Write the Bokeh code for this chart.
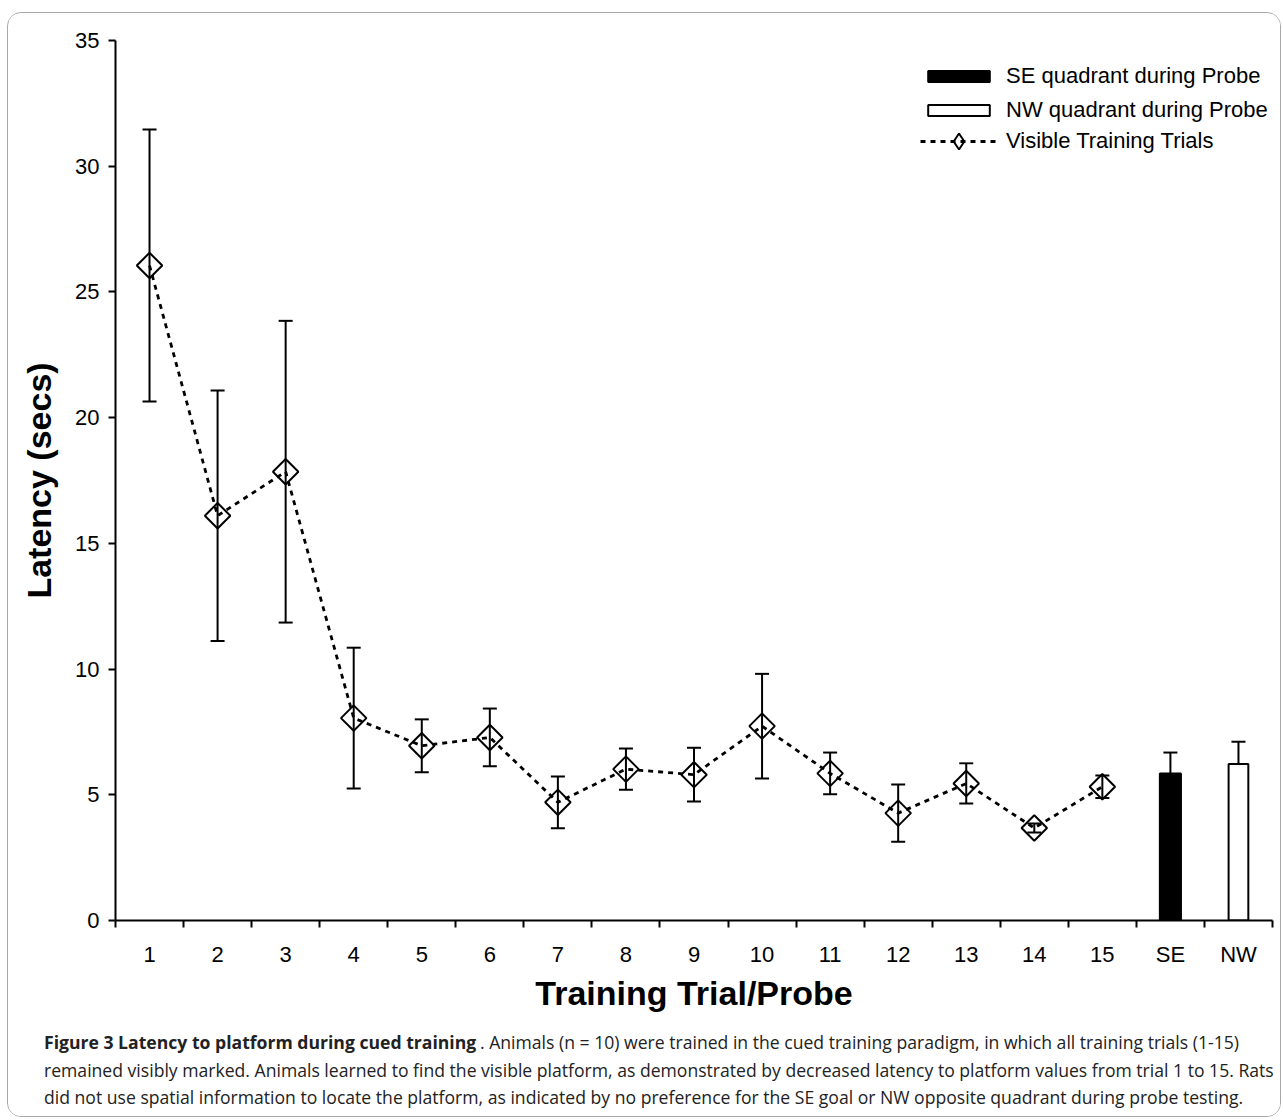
import math
from bokeh.plotting import figure
from bokeh.layouts import column
from bokeh.models import (ColumnDataSource, Whisker, TeeHead, Legend, LegendItem, Range1d,
                          LinearAxis, CategoricalAxis, FixedTicker, Label, FactorRange,
                          CustomLabelingPolicy)
from bokeh.embed import file_html
from bokeh.resources import INLINE

# ---------------- data ----------------
trials = [str(i) for i in range(1, 16)]
trial_means = [26.05, 16.1, 17.85, 8.05, 6.95, 7.28, 4.7, 6.02, 5.8, 7.73, 5.85, 4.27, 5.45, 3.68, 5.32]
trial_sems = [5.41, 4.98, 6.0, 2.8, 1.05, 1.15, 1.03, 0.82, 1.07, 2.08, 0.83, 1.14, 0.8, 0.18, 0.45]
probe_cats = ["SE", "NW"]
probe_means = [5.85, 6.22]
probe_sems = [0.83, 0.89]
categories = trials + probe_cats
y_ticks = [0, 5, 10, 15, 20, 25, 30, 35]
legend_labels = ["SE quadrant during Probe", "NW quadrant during Probe", "Visible Training Trials"]
x_title = "Training Trial/Probe"
y_title = "Latency (secs)"
caption_bold = "Figure 3 Latency to platform during cued training"
caption_line1_rest = ". Animals (n = 10) were trained in the cued training paradigm, in which all training trials (1-15)"
caption_line2 = ("remained visibly marked. Animals learned to find the visible platform, as demonstrated by "
                 "decreased latency to platform values from trial 1 to 15. Rats")
caption_line3 = ("did not use spatial information to locate the platform, as indicated by no preference for "
                 "the SE goal or NW opposite quadrant during probe testing.")

# ---------------- layout constants ----------------
FRAME_W, FRAME_H = 1157, 880
FIG_W = 1272
CAP_H = 96
AXIS_FONT = "Liberation Sans"

p = figure(x_range=FactorRange(*categories, range_padding=0), y_range=Range1d(0, 35),
           frame_width=FRAME_W, frame_height=FRAME_H,
           min_border_left=107, min_border_right=FIG_W - 107 - FRAME_W,
           min_border_top=27, min_border_bottom=100,
           output_backend="svg", toolbar_location=None,
           x_axis_location=None, y_axis_location=None)
p.frame_align = False
p.outline_line_color = None
p.background_fill_color = "white"
p.border_fill_color = "white"
p.grid.visible = False

# ticks at the boundaries between categories (synthetic coordinates 0..N), no labels
tick_axis = LinearAxis(ticker=FixedTicker(ticks=list(range(len(categories) + 1))),
                       major_tick_out=7, major_tick_in=0, minor_tick_line_color=None,
                       axis_line_width=2, major_tick_line_width=2,
                       major_label_text_font_size="0px", major_label_standoff=0,
                       major_label_policy=CustomLabelingPolicy(code="return new Set()"))
label_axis = CategoricalAxis(axis_line_color=None, major_tick_line_color=None,
                             major_tick_out=0, major_tick_in=0, minor_tick_line_color=None,
                             major_label_standoff=14,
                             major_label_text_font=AXIS_FONT, major_label_text_font_size="22px",
                             major_label_text_color="black",
                             axis_label=x_title, axis_label_standoff=4,
                             axis_label_text_font=AXIS_FONT, axis_label_text_font_size="34px",
                             axis_label_text_font_style="bold", axis_label_text_color="black")
p.add_layout(tick_axis, "below")
p.add_layout(label_axis, "below")

yaxis = LinearAxis(ticker=FixedTicker(ticks=y_ticks), major_tick_out=7, major_tick_in=0,
                   minor_tick_line_color=None, axis_line_width=2, major_tick_line_width=2,
                   major_label_text_font=AXIS_FONT, major_label_text_font_size="22px",
                   major_label_text_color="black", major_label_standoff=9,
                   axis_label=y_title, axis_label_standoff=14,
                   axis_label_text_font=AXIS_FONT, axis_label_text_font_size="34px",
                   axis_label_text_font_style="bold", axis_label_text_color="black")
p.add_layout(yaxis, "left")

# ---------------- training trials ----------------
src = ColumnDataSource(dict(
    x=trials, y=trial_means,
    upper=[m + s for m, s in zip(trial_means, trial_sems)],
    lower=[m - s for m, s in zip(trial_means, trial_sems)],
))
w = Whisker(base="x", upper="upper", lower="lower", source=src, line_width=2, line_color="black",
            upper_head=TeeHead(size=14, line_width=2, line_color="black"),
            lower_head=TeeHead(size=14, line_width=2, line_color="black"))
p.add_layout(w)
line_r = p.line("x", "y", source=src, line_dash="5 5", line_width=2.8, line_color="black")
scat_r = p.scatter("x", "y", source=src, marker="square", angle=math.pi / 4, size=18,
                   fill_color=None, line_color="black", line_width=2)
# hidden twin of the markers, used only for the legend swatch (legend markers are drawn unrotated)
legend_marker = p.scatter("x", "y", source=src, marker="diamond", size=18, fill_color=None,
                          line_color="black", line_width=2, visible=False)

# ---------------- probe bars ----------------
probe_src = ColumnDataSource(dict(
    x=probe_cats, top=probe_means,
    upper=[m + s for m, s in zip(probe_means, probe_sems)],
    lower=[m - s for m, s in zip(probe_means, probe_sems)],
))
se_src = ColumnDataSource(dict(x=probe_cats[:1], top=probe_means[:1]))
nw_src = ColumnDataSource(dict(x=probe_cats[1:], top=probe_means[1:]))
pw = Whisker(base="x", upper="upper", lower="lower", source=probe_src, line_width=2, line_color="black",
             upper_head=TeeHead(size=14, line_width=2, line_color="black"),
             lower_head=TeeHead(size=14, line_width=2, line_color="black"))
p.add_layout(pw)
se_bar = p.vbar(x="x", top="top", width=0.31, source=se_src, fill_color="black",
                line_color="black", line_width=2)
nw_bar = p.vbar(x="x", top="top", width=0.29, source=nw_src, fill_color="white",
                line_color="black", line_width=2)

# ---------------- legends ----------------
leg_common = dict(glyph_width=77, label_standoff=9, padding=0, margin=0,
                  border_line_color=None, background_fill_alpha=0,
                  label_text_font=AXIS_FONT, label_text_font_size="22px",
                  label_text_color="black", inactive_fill_alpha=0)
legA = Legend(items=[LegendItem(label=legend_labels[0], renderers=[se_bar]),
                     LegendItem(label=legend_labels[1], renderers=[nw_bar])],
              location=(805, 797), glyph_height=14, spacing=8, **leg_common)
legB = Legend(items=[LegendItem(label=legend_labels[2], renderers=[line_r, legend_marker])],
              location=(805, 759), glyph_height=40, **leg_common)
p.add_layout(legA)
p.add_layout(legB)

# ---------------- caption (own strip below the chart) ----------------
cap_fig = figure(width=FIG_W, height=CAP_H, x_range=Range1d(0, FIG_W), y_range=Range1d(CAP_H, 0),
                 output_backend="svg", toolbar_location=None, min_border=0,
                 min_border_left=0, min_border_right=0, min_border_top=0, min_border_bottom=0,
                 x_axis_location=None, y_axis_location=None)
cap_fig.frame_align = False
cap_fig.title.visible = False
cap_fig.outline_line_color = None
cap_fig.grid.visible = False
cap_fig.background_fill_color = "white"
cap_fig.border_fill_color = "white"

cap = dict(text_font="Open Sans", text_font_size="17.6px", text_color="#222222",
           text_baseline="alphabetic", text_align="left")
cap_fig.add_layout(Label(x=35.5, y=21.5, text=caption_bold, text_font_style="bold", **cap))
cap_fig.add_layout(Label(x=471.5, y=21.5, text=caption_line1_rest, **cap))
cap_fig.add_layout(Label(x=35.5, y=49.5, text=caption_line2, **cap))
cap_fig.add_layout(Label(x=35.5, y=76.5, text=caption_line3, **cap))

layout = column(p, cap_fig, spacing=0)
layout.styles = {"border": "1.5px solid #a8a8a8", "border-radius": "14px",
                 "margin-top": "12px", "margin-left": "7px", "overflow": "hidden"}

open("out.html", "w").write(file_html(layout, INLINE))
